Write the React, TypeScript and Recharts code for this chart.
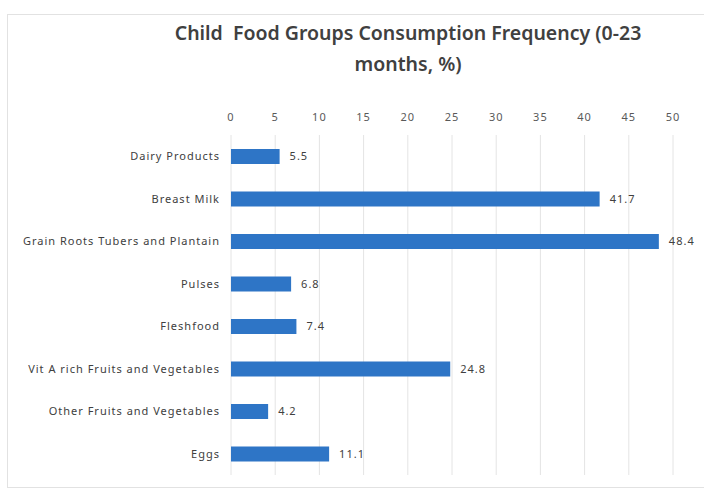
import { BarChart, Bar, XAxis, YAxis, CartesianGrid, LabelList } from 'recharts';

const categories = [
  'Dairy Products',
  'Breast Milk',
  'Grain Roots Tubers and Plantain',
  'Pulses',
  'Fleshfood',
  'Vit A rich Fruits and Vegetables',
  'Other Fruits and Vegetables',
  'Eggs',
];
const percents = [5.5, 41.7, 48.4, 6.8, 7.4, 24.8, 4.2, 11.1];
const xTicks = [0, 5, 10, 15, 20, 25, 30, 35, 40, 45, 50];

const data = categories.map((name, i) => ({ name, value: percents[i] }));

const FONT = '"Noto Sans", "Open Sans", sans-serif';
const BLUE = '#2E75C6';
const txt = { fontSize: 11, fill: '#404040', fontFamily: FONT, letterSpacing: 1 };

export default function App() {
  return (
    <div style={{ position: 'absolute', left: 0, top: 0, width: 704, height: 497, background: '#fff', fontFamily: FONT }}>
      <div style={{ position: 'absolute', left: 7, top: 14, width: 710, height: 472, border: '1px solid #e2e2e2' }} />
      <div
        style={{
          position: 'absolute',
          left: 108,
          width: 600,
          top: 17,
          textAlign: 'center',
          fontSize: 19.5,
          fontWeight: 600,
          lineHeight: '31px',
          color: '#404040',
        }}
      >
        Child&nbsp; Food Groups Consumption Frequency (0-23
        <br />
        months, %)
      </div>
      <div style={{ position: 'absolute', left: 0, top: 0 }}>
        <BarChart
          width={704}
          height={497}
          data={data}
          layout="vertical"
          margin={{ top: 100, right: 31, bottom: 22, left: 0 }}
          barCategoryGap={14}
        >
          <CartesianGrid horizontal={false} stroke="#e4e4e4" />
          <XAxis
            type="number"
            orientation="top"
            domain={[0, 50]}
            ticks={xTicks}
            height={35}
            axisLine={false}
            tickLine={false}
            tickMargin={8}
            tick={{ ...txt, fill: '#595959' }}
          />
          <YAxis
            type="category"
            dataKey="name"
            width={231}
            axisLine={false}
            tickLine={false}
            tickMargin={5}
            tick={txt}
          />
          <Bar dataKey="value" fill={BLUE} barSize={15} isAnimationActive={false}>
            <LabelList dataKey="value" position="right" offset={10} style={txt} />
          </Bar>
        </BarChart>
      </div>
    </div>
  );
}
